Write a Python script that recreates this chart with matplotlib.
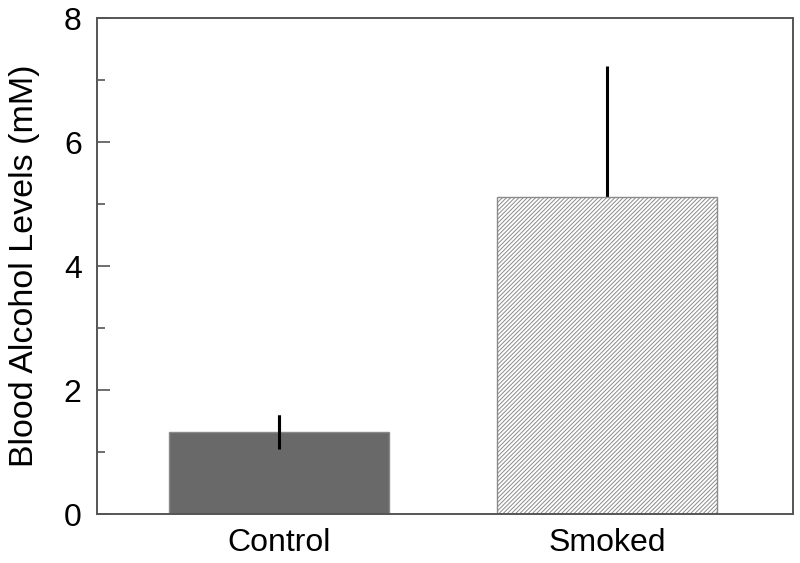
import numpy as np
import matplotlib.pyplot as plt
import matplotlib as mpl

plt.rcParams['font.family'] = ['Liberation Sans', 'DejaVu Sans']
mpl.rcParams['hatch.linewidth'] = 0.7

# Data
groups = ['Control', 'Smoked']
means = [1.32, 5.11]
err_low = [0.27, 0.0]
err_high = [0.27, 2.12]

fig = plt.figure(figsize=(8.0, 5.63), dpi=100)
ax = fig.add_axes([97 / 800, 1 - 514 / 563, 696 / 800, 496 / 563])

x = np.arange(len(groups))

# error bars behind the bars
ax.errorbar(x, means, yerr=[err_low, err_high], fmt='none', ecolor='black',
            elinewidth=2.2, capsize=0, zorder=1)
ax.bar(x[0], means[0], width=0.67, color='#696969', edgecolor='#8a8a8a',
       linewidth=1, zorder=2)
ax.bar(x[1], means[1], width=0.67, color='white', edgecolor='#8a8a8a',
       hatch='////////', linewidth=1, zorder=2)
# control error bar shows over its bar
ax.errorbar(x[0], means[0], yerr=err_low[0], fmt='none', ecolor='black',
            elinewidth=2.2, capsize=0, zorder=3)

ax.set_xlim(-0.555, 1.567)
ax.set_ylim(0, 8)
ax.set_xticks(x)
ax.set_xticklabels(groups)
ax.set_yticks([0, 2, 4, 6, 8])
ax.set_yticks([1, 3, 5, 7], minor=True)
ax.tick_params(axis='y', which='major', direction='in', length=9, width=1.2,
               color='#555555', labelsize=23, pad=11)
ax.tick_params(axis='y', which='minor', direction='in', length=6, width=1.2,
               color='#555555')
ax.tick_params(axis='x', length=0, labelsize=23, pad=10)
ax.set_ylabel('Blood Alcohol Levels (mM)', fontsize=24.5, labelpad=17)

for s in ax.spines.values():
    s.set_color('#555555')
    s.set_linewidth(1.4)

fig.savefig('out.png', dpi=100)
